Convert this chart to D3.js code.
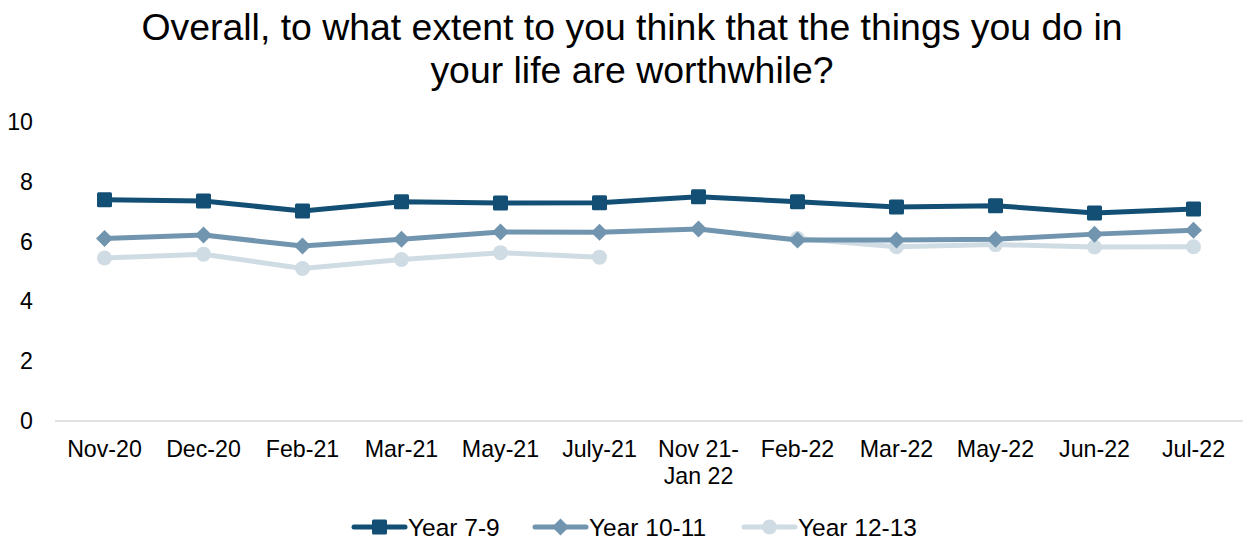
<!DOCTYPE html>
<html>
<head>
<meta charset="utf-8">
<script src="https://cdn.jsdelivr.net/npm/d3@7"></script>
<style>
  body { margin: 0; background: #fff; }
  text { font-family: "Liberation Sans", Arial, sans-serif; fill: #000; }
</style>
</head>
<body>
<div id="chart"></div>
<script>
const width = 1248;
const height = 542;

const categories = ["Nov-20", "Dec-20", "Feb-21", "Mar-21", "May-21", "July-21",
  "Nov 21-\nJan 22", "Feb-22", "Mar-22", "May-22", "Jun-22", "Jul-22"];
const year79 = [7.4, 7.36, 7.02, 7.33, 7.29, 7.3, 7.5, 7.33, 7.16, 7.2, 6.96, 7.09];
const year1011 = [6.1, 6.22, 5.85, 6.08, 6.32, 6.31, 6.42, 6.05, 6.05, 6.08, 6.25, 6.38];
const year1213 = [5.45, 5.58, 5.1, 5.4, 5.63, 5.48, null, 6.1, 5.83, 5.9, 5.82, 5.83];
const yTicks = [0, 2, 4, 6, 8, 10];

const series = [
  { name: "Year 7-9", values: year79, color: "#134F74", marker: "square" },
  { name: "Year 10-11", values: year1011, color: "#7295AF", marker: "diamond" },
  { name: "Year 12-13", values: year1213, color: "#D0DCE4", marker: "circle" }
];

const margin = { left: 55, right: 5, top: 122, bottom: 121 };

let x = d3.scaleBand()
  .domain(categories)
  .range([margin.left, width - margin.right]);
let y = d3.scaleLinear()
  .domain([0, 10])
  .range([height - margin.bottom, margin.top]);

let svg = d3.select("#chart")
  .append("svg")
  .attr("width", width)
  .attr("height", height)
  .attr("viewBox", [0, 0, width, height]);

// title
svg.append("text")
  .attr("text-anchor", "middle")
  .attr("font-size", 37.4)
  .selectAll("tspan")
  .data(["Overall, to what extent to you think that the things you do in", "your life are worthwhile?"])
  .join("tspan")
    .attr("x", 632)
    .attr("y", (d, i) => 40 + i * 43)
    .text(d => d);

// zero line
svg.append("line")
  .attr("x1", margin.left)
  .attr("x2", width - margin.right)
  .attr("y1", y(0))
  .attr("y2", y(0))
  .attr("stroke", "#d9d9d9")
  .attr("stroke-width", 1.5);

// y axis labels
svg.append("g")
  .selectAll("text")
  .data(yTicks)
  .join("text")
    .attr("x", 33)
    .attr("y", d => y(d) + 8)
    .attr("text-anchor", "end")
    .attr("font-size", 23.2)
    .text(d => d);

// x axis labels
svg.append("g")
  .selectAll("text")
  .data(categories)
  .join("text")
    .attr("text-anchor", "middle")
    .attr("font-size", 23.2)
  .selectAll("tspan")
  .data(d => d.split("\n").map(t => ({ t, c: d })))
  .join("tspan")
    .attr("x", d => x(d.c) + x.bandwidth() / 2)
    .attr("y", (d, i) => 457 + i * 27)
    .text(d => d.t);

const cx = c => x(c) + x.bandwidth() / 2;

function drawMarker(g, type, color) {
  if (type === "square") {
    g.append("rect").attr("x", -7.5).attr("y", -7.5).attr("width", 15).attr("height", 15)
      .attr("rx", 1.5).attr("fill", color);
  } else if (type === "diamond") {
    g.append("path").attr("d", "M0,-8.5L8.5,0L0,8.5L-8.5,0Z").attr("fill", color);
  } else {
    g.append("circle").attr("r", 7.5).attr("fill", color);
  }
}

const line = d3.line()
  .defined(d => d.v != null)
  .x(d => cx(d.c))
  .y(d => y(d.v));

series.slice().reverse().forEach(s => {
  const pts = categories.map((c, i) => ({ c, v: s.values[i] }));
  svg.append("path")
    .datum(pts)
    .attr("fill", "none")
    .attr("stroke", s.color)
    .attr("stroke-width", 5)
    .attr("stroke-linejoin", "round")
    .attr("d", line);
  svg.append("g")
    .selectAll("g")
    .data(pts.filter(d => d.v != null))
    .join("g")
      .attr("transform", d => `translate(${cx(d.c)},${y(d.v)})`)
      .each(function () { drawMarker(d3.select(this), s.marker, s.color); });
});

// legend
const legendX = [352, 533, 742];
const legend = svg.append("g")
  .selectAll("g")
  .data(series)
  .join("g")
    .attr("transform", (d, i) => `translate(${legendX[i]},527)`);
legend.append("line")
  .attr("x1", 2).attr("x2", 53)
  .attr("stroke", d => d.color)
  .attr("stroke-width", 5)
  .attr("stroke-linecap", "round");
legend.append("g")
  .attr("transform", "translate(27.5,0)")
  .each(function (d) { drawMarker(d3.select(this), d.marker, d.color); });
legend.append("text")
  .attr("x", 56)
  .attr("y", 8.5)
  .attr("font-size", 24.5)
  .text(d => d.name);
</script>
</body>
</html>
